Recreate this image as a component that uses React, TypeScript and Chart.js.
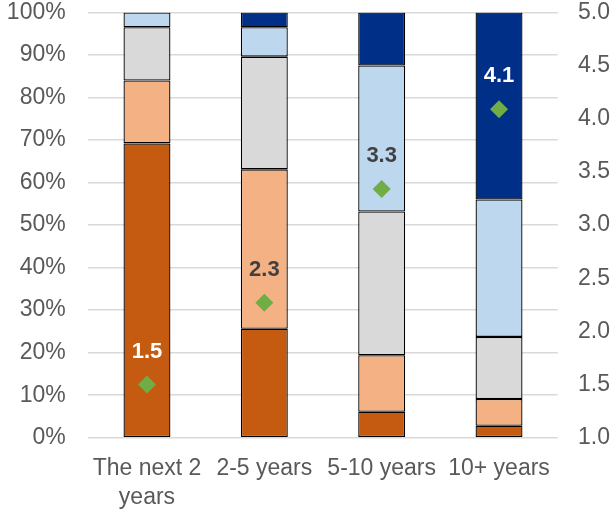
import React, { useEffect, useRef } from "react";
import { Chart, registerables } from "chart.js";

Chart.register(...registerables);

const categories: (string | string[])[] = [["The next 2", "years"], "2-5 years", "5-10 years", "10+ years"];
const darkOrange = [69.2, 25.6, 6.1, 2.8];
const lightOrange = [14.8, 37.5, 13.3, 6.3];
const gray = [12.5, 26.5, 33.8, 14.6];
const lightBlue = [3.5, 6.9, 34.3, 32.3];
const darkBlue = [null, 3.5, 12.5, 44.0];
const scores = [1.5, 2.27, 3.34, 4.09];
const scoreLabelColors = ["#ffffff", "#404040", "#404040", "#ffffff"];

const FONT = "'Liberation Sans', Arial, sans-serif";
const SHIFT = 24;

const labelPlugin = {
  id: "scoreLabels",
  afterDatasetsDraw(chart: any) {
    const ctx = chart.ctx;
    const meta = chart.getDatasetMeta(5);
    ctx.save();
    ctx.font = `bold 22px ${FONT}`;
    ctx.textAlign = "center";
    ctx.textBaseline = "middle";
    meta.data.forEach((pt: any, i: number) => {
      ctx.fillStyle = scoreLabelColors[i];
      ctx.fillText(scores[i].toFixed(1), pt.x, pt.y - 33);
    });
    ctx.restore();
  },
};

export default function App() {
  const ref = useRef<HTMLCanvasElement>(null);
  useEffect(() => {
    if (!ref.current) return;
    const barBase = {
      type: "bar" as const,
      borderColor: "#000000",
      borderWidth: 1.3,
      borderSkipped: false,
      barPercentage: 0.4,
      categoryPercentage: 1,
      yAxisID: "y",
      order: 1,
    };
    const chart = new Chart(ref.current, {
      type: "bar",
      data: {
        labels: categories,
        datasets: [
          { ...barBase, label: "a", data: darkOrange, backgroundColor: "#C55A11" },
          { ...barBase, label: "b", data: lightOrange, backgroundColor: "#F4B183" },
          { ...barBase, label: "c", data: gray, backgroundColor: "#D9D9D9" },
          { ...barBase, label: "d", data: lightBlue, backgroundColor: "#BDD7EE" },
          { ...barBase, label: "e", data: darkBlue, backgroundColor: "#002F87" },
          {
            type: "line" as const,
            label: "score",
            data: scores,
            yAxisID: "y1",
            showLine: false,
            pointStyle: "rectRot",
            pointRadius: 9,
            pointBackgroundColor: "#70AD47",
            pointBorderWidth: 0,
            pointBorderColor: "#70AD47",
            order: 0,
          } as any,
        ],
      },
      options: {
        responsive: false,
        animation: false,
        layout: { padding: { top: 13, left: 0, right: 0, bottom: 0 } },
        plugins: { legend: { display: false }, tooltip: { enabled: false } },
        scales: {
          x: {
            stacked: true,
            grid: { display: false },
            border: { display: false },
            ticks: {
              color: "#595959",
              padding: 9,
              maxRotation: 0,
              autoSkip: false,
              font: { family: FONT, size: 23, lineHeight: 1.25 },
            },
            afterFit: (s: any) => { s.height = 71.3; },
          },
          y: {
            stacked: true,
            position: "left",
            min: 0,
            max: 100,
            grid: { color: "#D9D9D9", lineWidth: 1.5, drawTicks: false },
            border: { display: false },
            ticks: {
              stepSize: 10,
              color: "#595959",
              padding: 22.6,
              font: { family: FONT, size: 23 },
              callback: (v: any) => v + "%",
            },
            afterFit: (s: any) => { s.width = 88.3; },
          },
          y1: {
            position: "right",
            min: 1,
            max: 5,
            grid: { display: false, drawTicks: false },
            border: { display: false },
            ticks: {
              stepSize: 0.5,
              color: "#595959",
              padding: 20.3,
              font: { family: FONT, size: 23 },
              callback: (v: any) => Number(v).toFixed(1),
            },
            afterFit: (s: any) => { s.width = 56.3; },
          },
        },
      } as any,
      plugins: [labelPlugin],
    });
    return () => chart.destroy();
  }, []);
  return (
    <div style={{ position: "fixed", left: 0, top: 0, width: 614, height: 509, overflow: "hidden", background: "#fff" }}>
      <canvas ref={ref} width={614} height={509 + SHIFT} style={{ display: "block", marginTop: -SHIFT }} />
    </div>
  );
}
